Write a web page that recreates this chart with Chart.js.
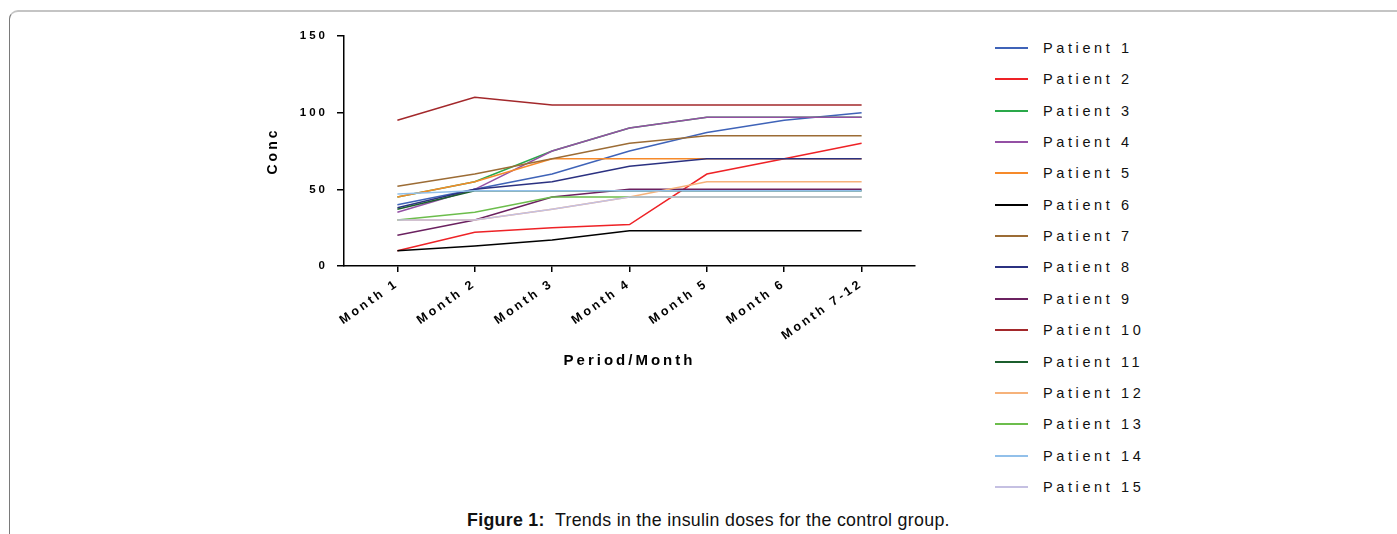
<!DOCTYPE html>
<html>
<head>
<meta charset="utf-8">
<script src="https://cdn.jsdelivr.net/npm/chart.js@4/dist/chart.umd.min.js"></script>
<style>
  html, body { margin:0; padding:0; background:#fff; }
  body { width:1397px; height:534px; overflow:hidden; position:relative; font-family:"Liberation Sans", Arial, sans-serif; }
  #frame { position:absolute; left:9px; top:10px; width:1500px; height:600px; border-top:2px solid #c4c4c4; border-left:1px solid #7a7a7a; border-top-left-radius:9px; box-sizing:border-box; }
  #chartBox { position:absolute; left:0; top:0; width:960px; height:400px; }
  .lg { position:absolute; left:995px; height:16px; }
  .lg .ln { position:absolute; left:0; top:7px; width:33px; height:2px; }
  .lg .tx { position:absolute; left:48px; top:0; font-size:14.5px; line-height:16px; letter-spacing:3.6px; color:#111; white-space:nowrap; }
  #caption { position:absolute; left:467px; top:509px; font-size:17.8px; line-height:22px; color:#111; white-space:nowrap; letter-spacing:0.3px; }
</style>
</head>
<body>
<div id="frame"></div>
<div id="chartBox"><canvas id="c" width="960" height="400"></canvas></div>
<div id="legend"></div>
<div id="caption"><b>Figure 1:</b>&nbsp; Trends in the insulin doses for the control group.</div>
<script>
const months = ['Month 1','Month 2','Month 3','Month 4','Month 5','Month 6','Month 7-12'];
const yTicks = [0, 50, 100, 150];
const patientNames = ['Patient 1','Patient 2','Patient 3','Patient 4','Patient 5','Patient 6','Patient 7','Patient 8','Patient 9','Patient 10','Patient 11','Patient 12','Patient 13','Patient 14','Patient 15'];

const p1  = [40, 50, 60, 75, 87, 95, 100];
const p2  = [10, 22, 25, 27, 60, 70, 80];
const p3  = [45, 55, 75, 90, 97, 97, 97];
const p4  = [35, 50, 75, 90, 97, 97, 97];
const p5  = [45, 55, 70, 70, 70, 70, 70];
const p6  = [10, 13, 17, 23, 23, 23, 23];
const p7  = [52, 60, 70, 80, 85, 85, 85];
const p8  = [38, 50, 55, 65, 70, 70, 70];
const p9  = [20, 30, 45, 50, 50, 50, 50];
const p10 = [95, 110, 105, 105, 105, 105, 105];
const p11 = [37, 49, 49, 49, 49, 49, 49];
const p12 = [30, 30, 37, 45, 55, 55, 55];
const p13 = [30, 35, 45, 45, 45, 45, 45];
const p14 = [47, 49, 49, 49, 49, 49, 49];
const p15 = [30, 30, 37, 45, 45, 45, 45];

const series = [p1,p2,p3,p4,p5,p6,p7,p8,p9,p10,p11,p12,p13,p14,p15];
const colors = ['#3f63b8','#ee2226','#2aa84a','#9450a4','#f68a2a','#000000','#9c6c35','#2b3181','#6b2160','#a3282b','#1b5e2d','#f6b27a','#6cbd4c','#92c0ea','#c5c0e2'];

const FONT = '"Liberation Sans", Arial, sans-serif';

const spacingPlugin = {
  id: 'spacing',
  beforeUpdate(chart) { chart.ctx.letterSpacing = '3px'; },
  beforeDraw(chart) { chart.ctx.letterSpacing = '3px'; }
};

new Chart(document.getElementById('c'), {
  type: 'line',
  data: {
    datasets: series.map((vals, i) => ({
      label: patientNames[i],
      data: vals.map((v, j) => ({ x: j, y: v })),
      borderColor: colors[i],
      backgroundColor: colors[i],
      borderWidth: 1.5,
      pointRadius: 0,
      fill: false,
      tension: 0,
      order: -i
    }))
  },
  options: {
    responsive: false,
    animation: false,
    layout: { padding: { left: 261, top: 36, right: 45, bottom: 26 } },
    plugins: { legend: { display: false }, tooltip: { enabled: false } },
    scales: {
      x: {
        type: 'linear',
        min: -0.69,
        max: 6.69,
        afterBuildTicks: s => { s.ticks = months.map((m, i) => ({ value: i })); },
        afterFit: s => { s.height = 108; },
        ticks: {
          callback: v => months[v],
          autoSkip: false,
          minRotation: 35,
          maxRotation: 35,
          color: '#000',
          padding: 4,
          font: { family: FONT, size: 12.5, weight: 'bold' }
        },
        grid: { drawOnChartArea: false, drawTicks: true, tickLength: 6, color: '#000', lineWidth: 1.5 },
        border: { color: '#000', width: 1.5 },
        title: { display: true, text: 'Period/Month', color: '#000', font: { family: FONT, size: 15, weight: 'bold' }, padding: { top: 4, bottom: 4 } }
      },
      y: {
        min: 0,
        max: 150,
        afterBuildTicks: s => { s.ticks = yTicks.map(v => ({ value: v })); },
        afterFit: s => { s.width = 83; },
        ticks: { color: '#000', padding: 9, font: { family: FONT, size: 11.5, weight: 'bold' } },
        grid: { drawOnChartArea: false, drawTicks: true, tickLength: 7, color: '#000', lineWidth: 1.5 },
        border: { color: '#000', width: 1.5 },
        title: { display: true, text: 'Conc', color: '#000', font: { family: FONT, size: 14, weight: 'bold' }, padding: { top: 4, bottom: 4 } }
      }
    }
  },
  plugins: [spacingPlugin]
});

// Legend built from the same dataset names/colours
const legend = document.getElementById('legend');
patientNames.forEach((name, i) => {
  const item = document.createElement('div');
  item.className = 'lg';
  item.style.top = (48 + i * 31.35 - 8) + 'px';
  const ln = document.createElement('span');
  ln.className = 'ln';
  ln.style.background = colors[i];
  const tx = document.createElement('span');
  tx.className = 'tx';
  tx.textContent = name;
  item.appendChild(ln);
  item.appendChild(tx);
  legend.appendChild(item);
});
</script>
</body>
</html>
